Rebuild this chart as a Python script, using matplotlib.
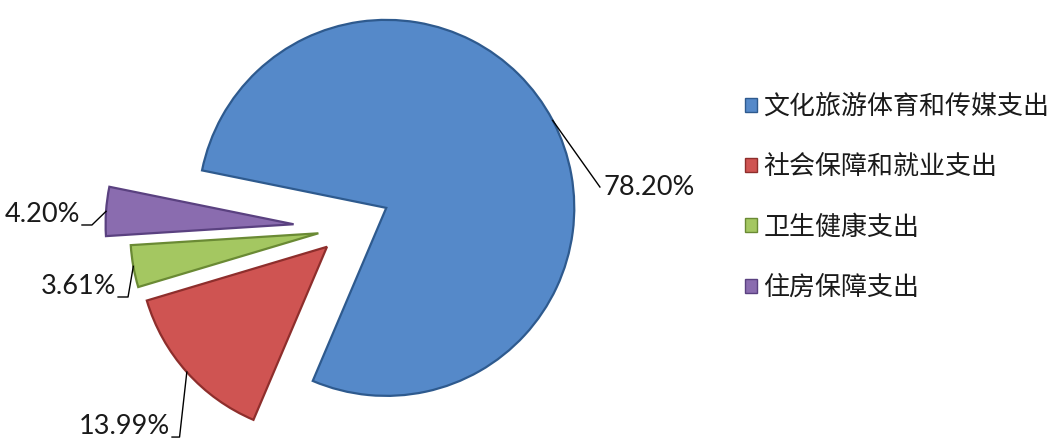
import numpy as np
import matplotlib.pyplot as plt
from matplotlib.patches import Patch

# chart data
categories = ['文化旅游体育和传媒支出', '社会保障和就业支出', '卫生健康支出', '住房保障支出']
shares = [78.20, 13.99, 3.61, 4.20]
pct_labels = ['78.20%', '13.99%', '3.61%', '4.20%']

colors = ['#5589C9', '#CF5452', '#A4C761', '#8A6CAF']
edges = ['#2E5A8E', '#8E2E2C', '#6A8A34', '#5A4180']
explode = [0.23, 0.15, 0.16, 0.29]
start = 168.5

# label layout (data units, pie radius = 1): text anchor, elbow x
label_pos = [(1.34, 0.218, 'left'), (-0.936, -1.112, 'right'),
             (-1.223, -0.367, 'right'), (-1.415, 0.016, 'right')]
elbow_dx = [0.0, 0.04, 0.053, 0.053]

fig = plt.figure(figsize=(10.57, 4.44), dpi=100)
ax = fig.add_axes([0, 0, 1, 1])
ax.axis('off')

wedges, _ = ax.pie(shares, colors=colors, explode=explode, startangle=start,
                   counterclock=False, radius=1.0,
                   wedgeprops=dict(linewidth=1.6, antialiased=True))
for w, ec in zip(wedges, edges):
    w.set_edgecolor(ec)

# leader lines + percent labels
for w, ex, txt, (tx, ty, ha), edx in zip(wedges, explode, pct_labels, label_pos, elbow_dx):
    mid = np.deg2rad((w.theta1 + w.theta2) / 2)
    sx = (1 + ex) * np.cos(mid)
    sy = (1 + ex) * np.sin(mid)
    if ha == 'left':
        ax.plot([sx, tx], [sy, ty], color='black', lw=1)
        ax.text(tx + 0.02, ty, txt, ha='left', va='center', fontsize=19.5,
                family='Lato', color='#1a1a1a')
    else:
        ex_x = tx + edx
        ax.plot([sx, ex_x, tx], [sy, ty, ty], color='black', lw=1)
        ax.text(tx - 0.01, ty - 0.01, txt, ha='right', va='bottom', fontsize=19.5,
                family='Lato', color='#1a1a1a')

ax.set_xlim(-348 / 188, 709 / 188)
ax.set_ylim(-216 / 188, 228 / 188)
ax.set_aspect('equal', adjustable='datalim')

handles = [Patch(facecolor=c, edgecolor=e, linewidth=1) for c, e in zip(colors, edges)]
leg = fig.legend(handles, categories, loc='center left',
                 bbox_to_anchor=(745 / 1057, (444 - 197) / 444),
                 frameon=False, handlelength=0.45, handleheight=0.45,
                 handletextpad=0.25, labelspacing=1.28, borderpad=0, borderaxespad=0,
                 prop={'family': ['Noto Sans CJK SC', 'DejaVu Sans'], 'size': 18.7})
for t in leg.get_texts():
    t.set_color('#1a1a1a')

fig.savefig('out.png', dpi=100)
